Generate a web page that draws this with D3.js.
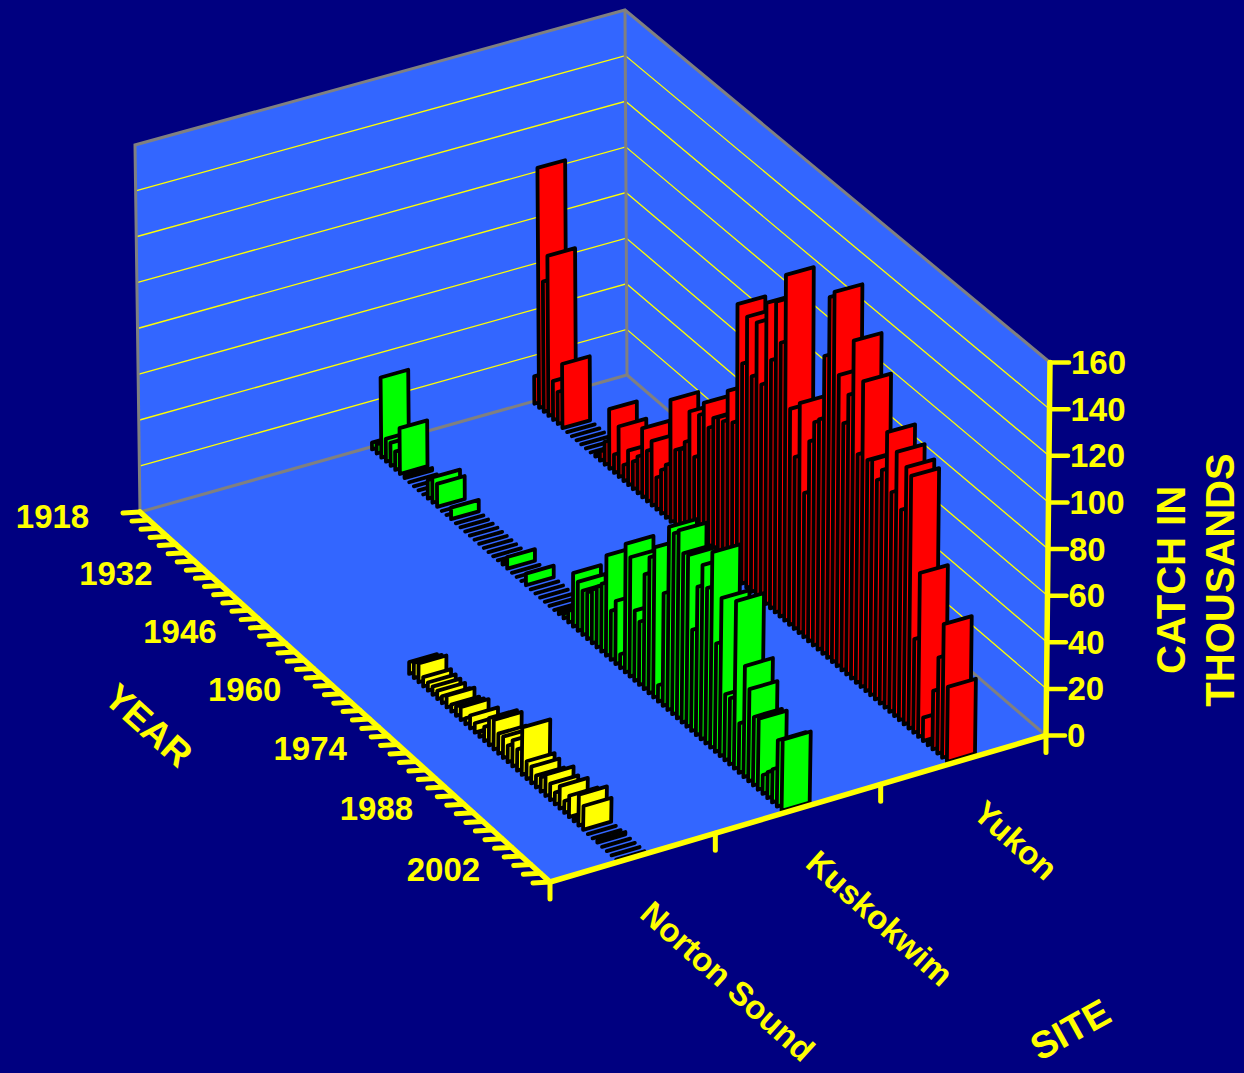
<!DOCTYPE html>
<html>
<head>
<meta charset="utf-8">
<script src="https://cdn.jsdelivr.net/npm/d3@7"></script>
<style>
html,body{margin:0;padding:0;background:#000080;overflow:hidden}
text{font-family:"Liberation Sans",Arial,sans-serif;font-weight:bold;fill:#ffff00}
</style>
</head>
<body>
<svg id="chart" width="1244" height="1073"></svg>
<script>
const sites = ["Norton Sound","Kuskokwim","Yukon"];
const yearLabels = [1918,1932,1946,1960,1974,1988,2002];
const catchTicks = [0,20,40,60,80,100,120,140,160];
const yukon = [12,105,57,70,17,14,28,0,0,0,0,0,0,1,4,10,26,8,22,7,15,12,16,30,22,28,14,19,23,53,33,35,40,55,37,57,64,55,61,63,63,78,66,119,95,117,93,118,93,130,107,134,118,149,93,74,99,62,86,96,99,128,155,159,125,106,120,145,98,131,99,101,94,100,118,94,113,90,110,108,40,70,10,1,25,41,57,32];
const kuskokwim = [3,4,35,10,10,8,20,1,0,0,0,0,8,11,10,0,0,5,0,0,0,0,0,0,0,0,0,0,1,5,0,0,0,5,0,0,0,0,0,0,1,2,5,23,21,19,20,23,26,29,43,21,27,6,55,51,30,27,49,58,64,7,48,78,77,80,72,73,43,63,74,66,83,46,67,28,28,71,21,47,39,29,30,8,11,14,28,30];
// Norton Sound starts in 1961
const nortonSound = [5,6.5,8,4,3.5,3.5,3.5,3,5,3,4,5.5,2.5,5.5,4,2,6,11.5,12.5,8.5,9,7,11,9,20,7.5,7,5,6,9,7,5,9.5,5,9,1,13,10,0,0,1,0,0,0,0];

const W = 1244, H = 1073;
const floorC = {a:[140,512], b:[627,375], c:[1046,735.5], d:[550,882]};
const topC   = {a:[135,145], b:[625,10],  c:[1050,362.5], d:[558,497]};

function bil(q,u,v){
  const f = k => (1-u)*(1-v)*q.a[k] + u*(1-v)*q.b[k] + u*v*q.c[k] + (1-u)*v*q.d[k];
  return [f(0),f(1)];
}
function project(u,v,w){
  const p = bil(floorC,u,v), t = bil(topC,u,v);
  return [p[0]+(t[0]-p[0])*w, p[1]+(t[1]-p[1])*w];
}

const yearLinear = d3.scaleLinear().domain([1917.5,2005.5]).range([0,1]);
// slight perspective foreshortening along the year direction
const warp = k => y => { const v = yearLinear(y); return v - k*v*(1-v); };
const yearScale = warp(0.035);
const barYear = warp(0.015);
const catchScale = d3.scaleLinear().domain([0,160]).range([0,1]);
const siteScale = d3.scaleBand().domain(sites).range([0,1]).paddingInner(0.83).paddingOuter(0.415);

const svg = d3.select("#chart");
const line = d3.line();
svg.append("rect").attr("width",W).attr("height",H).attr("fill","#000080");

const wallFill = "#3366ff";
const poly = pts => pts.map(p=>p.join(",")).join(" ");
svg.append("polygon").attr("fill",wallFill).attr("points",poly([project(0,0,0),project(1,0,0),project(1,0,1),project(0,0,1)]));
svg.append("polygon").attr("fill",wallFill).attr("points",poly([project(1,0,0),project(1,1,0),project(1,1,1),project(1,0,1)]));
svg.append("polygon").attr("fill",wallFill).attr("points",poly([project(0,0,0),project(1,0,0),project(1,1,0),project(0,1,0)]));

svg.append("g").selectAll("path").data(catchTicks.slice(1,-1)).join("path")
  .attr("fill","none").attr("stroke","#ffff00").attr("stroke-width",1.3)
  .attr("d",d=>{const w=catchScale(d);return line([project(0,0,w),project(1,0,w),project(1,1,w)]);});

const grey = "#808080";
[[[0,0,0],[1,0,0],[1,1,0]],[[0,0,0],[0,0,1],[1,0,1],[1,1,1]],[[1,0,0],[1,0,1]]].forEach(s=>{
  svg.append("path").attr("fill","none").attr("stroke",grey).attr("stroke-width",3)
    .attr("d",line(s.map(p=>project(...p))));
});

const series = [
  {site:"Yukon", color:"#ff0000", start:1918, values:yukon},
  {site:"Kuskokwim", color:"#00ff00", start:1918, values:kuskokwim},
  {site:"Norton Sound", color:"#ffff00", start:1961, values:nortonSound}
];
series.forEach(s=>{
  const u0 = siteScale(s.site), u1 = u0 + siteScale.bandwidth();
  svg.append("g").selectAll("polygon").data(s.values).join("polygon")
    .attr("fill",s.color).attr("stroke","#000").attr("stroke-width",3.8).attr("stroke-linejoin","round")
    .attr("points",(d,i)=>{
      const v = barYear(s.start+i), w = catchScale(d);
      return poly([project(u0,v,0),project(u1,v,0),project(u1,v,w),project(u0,v,w)]);
    });
});

const yel = "#ffff00";
function ax(pts,sw){
  svg.append("path").attr("fill","none").attr("stroke",yel).attr("stroke-width",sw)
    .attr("stroke-linecap","round").attr("stroke-linejoin","round").attr("d",line(pts));
}
ax([project(0,0,0),project(0,1,0)],5.5);
d3.range(1917.5,2006,2).forEach(y=>{
  const p = project(0,yearScale(y),0);
  ax([p,[p[0]-17,p[1]+1]],5);
});
ax([project(0,1,0),project(1,1,0)],5.5);
[0,1,2,3].forEach(k=>{
  const p = project(k/3,1,0);
  ax([p,[p[0],p[1]+17]],5);
});
ax([project(1,1,0),project(1,1,1)],5.5);
catchTicks.forEach(t=>{
  const p = project(1,1,catchScale(t));
  ax([p,[p[0]+19,p[1]]],4.5);
  svg.append("text").attr("x",p[0]+21).attr("y",p[1]).attr("dy","0.35em")
    .attr("font-size",33).text(t);
});
svg.append("g").selectAll("text").data(yearLabels).join("text")
  .attr("text-anchor","end").attr("font-size",33).attr("dy","0.36em")
  .attr("x",d=>project(0,yearScale(d),0)[0]-53)
  .attr("y",d=>project(0,yearScale(d),0)[1]+2)
  .text(d=>d);

function rotText(t,x,y,a,fs){
  svg.append("text").attr("transform",`translate(${x},${y}) rotate(${a})`)
    .attr("text-anchor","middle").attr("dy","0.36em").attr("font-size",fs).text(t);
}
rotText("Norton Sound",728,981,42,33);
rotText("Kuskokwim",880,918,42,33);
rotText("Yukon",1016,840,42,33);
rotText("YEAR",149,725,42,37);
rotText("SITE",1070,1029,-29,38);
rotText("CATCH IN",1171,580,-90,40);
rotText("THOUSANDS",1220,580,-90,40);
</script>
</body>
</html>
